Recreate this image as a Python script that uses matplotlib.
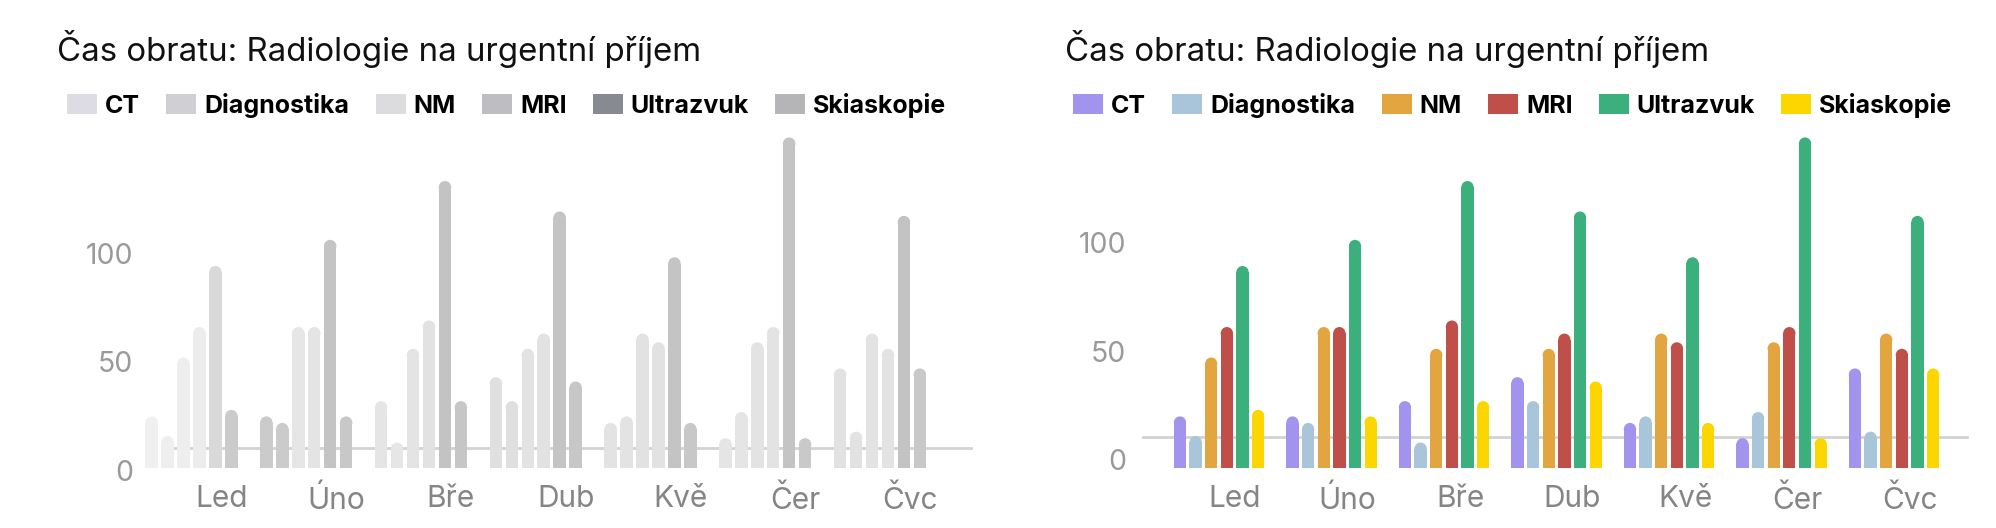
import numpy as np
import matplotlib.pyplot as plt
import matplotlib.transforms as mtransforms
from matplotlib.patches import Patch

plt.rcParams['font.family'] = ['Inter', 'DejaVu Sans']

# data ------------------------------------------------------------
title = 'Čas obratu: Radiologie na urgentní příjem'
months = ['Led', 'Úno', 'Bře', 'Dub', 'Kvě', 'Čer', 'Čvc']
series = ['CT', 'Diagnostika', 'NM', 'MRI', 'Ultrazvuk', 'Skiaskopie']

ct = [20, 20, 27, 38, 17, 10, 42]
diag = [11, 17, 8, 27, 20, 22, 13]
nm = [47, 61, 51, 51, 58, 54, 58]
mri = [61, 61, 64, 58, 54, 61, 51]
ultra = [89, 101, 128, 114, 93, 148, 112]
skia = [23, 20, 27, 36, 17, 10, 42]
values = [ct, diag, nm, mri, ultra, skia]

ref_line = 10.5

# styles ----------------------------------------------------------
colors = ['#A294EE', '#A9C5DA', '#E2A53F', '#BF4F48', '#3CB07C', '#FDD600']
gray_legend = ['#DCDCE2', '#D0D0D4', '#DCDCDE', '#BEBEC2', '#888A92', '#B5B5B8']
# grey level of each bar in the faded panel (rows = months, cols = series)
gray_levels = [
    [0xf0, 0xef, 0xee, 0xec, 0xd9, 0xcb],
    [0xcb, 0xcb, 0xe6, 0xe4, 0xc4, 0xc8],
    [0xe5, 0xe6, 0xe4, 0xe2, 0xc3, 0xc6],
    [0xe0, 0xdf, 0xe3, 0xe2, 0xc4, 0xc7],
    [0xe3, 0xe3, 0xe2, 0xe2, 0xc4, 0xc8],
    [0xe5, 0xe5, 0xe3, 0xe3, 0xc4, 0xc9],
    [0xe2, 0xe2, 0xe3, 0xe3, 0xc3, 0xc8],
]
gray_bars = [[(g / 255,) * 3 for g in col] for col in np.array(gray_levels).T]
color_bars = [[c] * len(months) for c in colors]

W, H = 1996, 528
fig = plt.figure(figsize=(W / 100, H / 100), dpi=100)
fig.patch.set_facecolor('white')

slot = 0.139
barw = 0.109
base = -3.7
ylim = (-4.6, 151.4)
xlim = (-0.676, 6.649)


def panel(left_px, unit_px, bar_cols, leg_cols, title_x, leg_x, tick_off, lab_shift,
          line_span, ypad):
    width_px = (xlim[1] - xlim[0]) * unit_px
    ax = fig.add_axes([left_px / W, (H - 470) / H, width_px / W, 340 / H])
    ax.set_xlim(*xlim)
    ax.set_ylim(*ylim)
    for s in ax.spines.values():
        s.set_visible(False)

    px_per_val = 340 / (ylim[1] - ylim[0])
    r = (barw * unit_px / 2) / px_per_val
    ms = barw * unit_px * 72 / 100

    x = np.arange(len(months))
    for i, vals in enumerate(values):
        xs = x + (i - 2.5) * slot
        tops = np.array(vals, dtype=float)
        ax.bar(xs, tops - r - base, bottom=base, width=barw, color=bar_cols[i],
               linewidth=0, zorder=3)
        ax.scatter(xs, tops - r, s=ms ** 2, c=bar_cols[i], edgecolors='none', zorder=3)

    # grey reference line (left panel is drawn a few px lower)
    shift = mtransforms.ScaledTranslation(0, -lab_shift / 100, fig.dpi_scale_trans)
    ax.plot(line_span, [ref_line, ref_line], color='#D3D3D3', lw=2, zorder=2,
            clip_on=False, transform=ax.get_yaxis_transform() + shift)

    ax.set_yticks([0, 50, 100])
    ax.set_yticklabels(['0', '50', '100'])
    ax.set_xticks(x + tick_off)
    ax.set_xticklabels(months)
    ax.tick_params(axis='y', length=0, labelsize=20.5, labelcolor='#9A9A9A', pad=ypad)
    ax.tick_params(axis='x', length=0, labelsize=21.5, labelcolor='#858585', pad=11)
    for lab in ax.get_yticklabels():
        lab.set_transform(lab.get_transform() + shift)

    fig.text(title_x / W, 1 - 61 / H, title, fontsize=23.8, color='#111111',
             va='baseline', ha='left')
    handles = [Patch(facecolor=c, edgecolor='none') for c in leg_cols]
    fig.legend(handles, series, loc='upper left',
               bbox_to_anchor=(leg_x / W, 1 - 93 / H), ncol=6, frameon=False,
               prop={'weight': 'bold', 'size': 18}, handlelength=1.2,
               handleheight=0.85, handletextpad=0.32, columnspacing=1.05,
               borderpad=0, borderaxespad=0)
    return ax


# left panel (greyed) and right panel (colour)
panel(191.5 - 0.676 * 114.75, 114.75, gray_bars, gray_legend, 57, 67, 0.26, 11,
      (0.07, 1.02), -14)
panel(1143, 112.5, color_bars, colors, 1065, 1073, 0.142, 0, (0.0, 1.0), 12)

fig.savefig('out.png', dpi=100, facecolor='white')
